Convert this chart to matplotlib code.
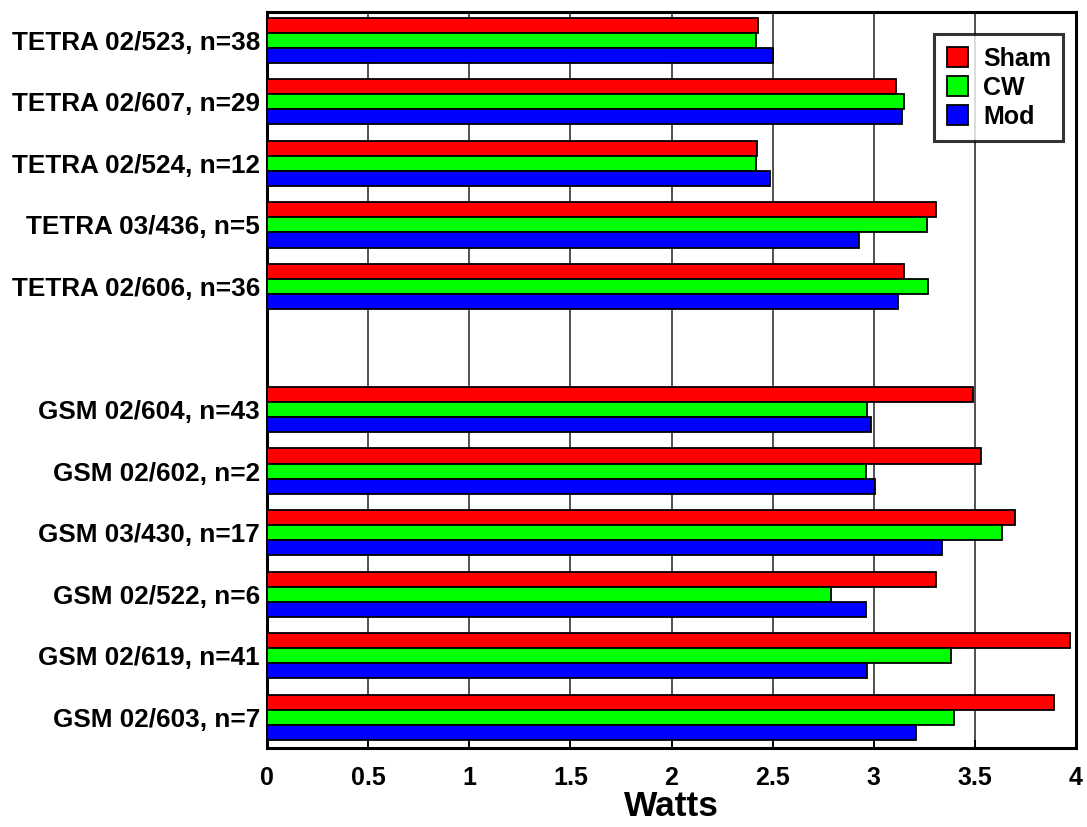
import numpy as np
import matplotlib.pyplot as plt

plt.rcParams['font.family'] = ['Liberation Sans', 'DejaVu Sans']
plt.rcParams['font.weight'] = 'bold'

labels = ["TETRA 02/523, n=38", "TETRA 02/607, n=29", "TETRA 02/524, n=12",
          "TETRA 03/436, n=5", "TETRA 02/606, n=36", "",
          "GSM 02/604, n=43", "GSM 02/602, n=2", "GSM 03/430, n=17",
          "GSM 02/522, n=6", "GSM 02/619, n=41", "GSM 02/603, n=7"]
sham = [2.43, 3.11, 2.425, 3.31, 3.15, np.nan, 3.49, 3.53, 3.70, 3.31, 3.97, 3.89]
cw = [2.42, 3.15, 2.42, 3.265, 3.27, np.nan, 2.965, 2.96, 3.635, 2.79, 3.38, 3.395]
mod = [2.50, 3.14, 2.485, 2.925, 3.12, np.nan, 2.985, 3.005, 3.335, 2.96, 2.965, 3.21]

fig = plt.figure(figsize=(10.87, 8.27), dpi=100)
ax = fig.add_axes([267 / 1087, 1 - 748 / 827, (1076 - 267) / 1087, (748 - 12) / 827])

y = np.arange(len(labels))
h = 0.245
kw = dict(height=h, edgecolor='black', linewidth=1.3, zorder=3)
ax.barh(y - h, sham, color='#ff0000', label='Sham', **kw)
ax.barh(y, cw, color='#00ff00', label='CW', **kw)
ax.barh(y + h, mod, color='#0000ff', label='Mod', **kw)

ax.set_xlim(0, 4)
ax.set_ylim(11.5, -0.46)
ax.set_yticks([i for i in y if labels[i]])
ax.set_yticklabels([l for l in labels if l], fontsize=18.8, fontweight='bold')
ax.tick_params(axis='y', length=0, pad=5)
ax.set_xticks(np.arange(0, 4.01, 0.5))
ax.set_xticklabels(['0', '0.5', '1', '1.5', '2', '2.5', '3', '3.5', '4'],
                   fontsize=18, fontweight='bold')
ax.tick_params(axis='x', direction='in', length=6, width=1.3, pad=13)
ax.xaxis.grid(True, color='#333333', linewidth=1.2, zorder=0)
ax.set_axisbelow(True)
for s in ax.spines.values():
    s.set_linewidth(2.2)
ax.set_xlabel("Watts", fontsize=25.5, fontweight='bold', labelpad=0)

leg = ax.legend(loc='upper right', bbox_to_anchor=(0.9845, 0.97),
                prop={'weight': 'bold', 'size': 18}, frameon=True, fancybox=False,
                edgecolor='black', handlelength=0.85, handleheight=0.85,
                handletextpad=0.6, borderpad=0.5, labelspacing=0.2,
                borderaxespad=0)
leg.get_frame().set_linewidth(2.2)

fig.savefig('out.png', dpi=100)
